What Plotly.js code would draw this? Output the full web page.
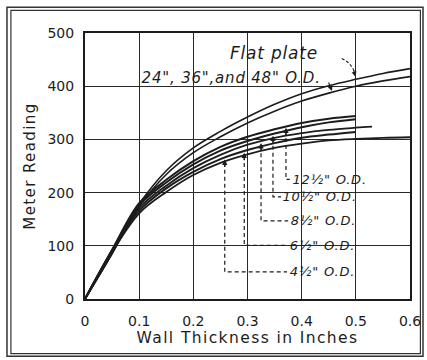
<!DOCTYPE html>
<html>
<head>
<meta charset="utf-8">
<script src="https://cdn.plot.ly/plotly-3.0.1.min.js"></script>
<style>
html,body{margin:0;padding:0;background:#fff;}
#chart{width:427px;height:360px;}
#chart .xtitle, #chart .ytitle{letter-spacing:1.4px;}
#chart .annotation-text{letter-spacing:0.8px;}
</style>
</head>
<body>
<div id="chart"></div>
<script>
// ---- data ----
const xFull = [0, 0.05, 0.1, 0.15, 0.2, 0.25, 0.3, 0.35, 0.4, 0.45, 0.5, 0.55, 0.6];
const flatPlate = [0, 86, 178, 241, 284, 315, 342, 366, 386, 401, 413, 424, 433];
const od24to48 = [0, 85, 174, 234, 275, 305, 331, 353, 372, 387, 400, 410, 418];

const xTo05 = [0, 0.05, 0.1, 0.15, 0.2, 0.25, 0.3, 0.35, 0.4, 0.45, 0.5];
const od12half = [0, 92, 180, 224, 259, 286, 305, 319, 331, 339, 344];
const od10half = [0, 92, 176, 219, 253, 279, 297, 311, 323, 332, 338];
const xTo053 = [0, 0.05, 0.1, 0.15, 0.2, 0.25, 0.3, 0.35, 0.4, 0.45, 0.5, 0.53];
const od8half = [0, 91, 171, 213, 246, 271, 290, 303, 312, 318, 322, 324];
const od6half = [0, 90, 166, 208, 239, 263, 280, 293, 303, 309, 314];
const od4half = [0, 88, 161, 201, 233, 256, 272, 284, 292, 298, 301, 303, 304];

const xTickVals = [0, 0.1, 0.2, 0.3, 0.4, 0.5, 0.6];
const xTickText = ['0', '0.1', '0.2', '0.3', '0.4', '0.5', '0.6'];
const yTickVals = [0, 100, 200, 300, 400, 500];

// labels for the pipe curves
const pipeLabels = ['12½" O.D.', '10½" O.D.', '8½" O.D.', '6½" O.D.', '4½" O.D.'];
const pipeArrowX = [0.371, 0.347, 0.325, 0.294, 0.258];
const pipeArrowY = [322, 307, 293, 275, 262];
const pipeLabelY = [225, 192, 147, 101, 51];
const pipeLabelX = [0.385, 0.368, 0.383, 0.381, 0.381];
const pipeLineEndX = [0.378, 0.362, 0.375, 0.373, 0.373];

const ink = '#1c1c1c';
const fontFam = '"DejaVu Sans", "Liberation Sans", sans-serif';

function curve(x, y, w) {
  return {x: x, y: y, type: 'scatter', mode: 'lines',
          line: {color: ink, width: w, shape: 'spline', smoothing: 1.0},
          hoverinfo: 'skip', showlegend: false};
}

const traces = [
  curve(xFull, flatPlate, 1.6),
  curve(xFull, od24to48, 1.6),
  curve(xTo05, od12half, 2.0),
  curve(xTo05, od10half, 2.0),
  curve(xTo053, od8half, 1.8),
  curve(xTo05, od6half, 2.0),
  curve(xFull, od4half, 1.8)
];

const shapes = [];
const annotations = [];

// outer double frame of the figure
shapes.push({type: 'rect', xref: 'paper', yref: 'paper', x0: -0.24, x1: 1.04, y0: -0.215, y1: 1.097,
             line: {color: '#333', width: 1.5}});
shapes.push({type: 'rect', xref: 'paper', yref: 'paper', x0: -0.228, x1: 1.032, y0: -0.205, y1: 1.085,
             line: {color: '#333', width: 1.2}});

for (let i = 0; i < pipeLabels.length; i++) {
  shapes.push({type: 'path', xref: 'x', yref: 'y',
    path: 'M ' + pipeArrowX[i] + ',' + (pipeArrowY[i] - 6) + ' L ' + pipeArrowX[i] + ',' + pipeLabelY[i] +
          ' L ' + pipeLineEndX[i] + ',' + pipeLabelY[i],
    line: {color: ink, width: 1.2, dash: '4px,3px'}});
  annotations.push({x: pipeArrowX[i], y: pipeArrowY[i], xref: 'x', yref: 'y', text: '',
    showarrow: true, arrowhead: 2, arrowsize: 0.9, arrowwidth: 1.2, arrowcolor: ink,
    ax: 0, ay: 9, axref: 'pixel', ayref: 'pixel'});
  annotations.push({x: pipeLabelX[i], y: pipeLabelY[i], xref: 'x', yref: 'y', text: '<i>' + pipeLabels[i] + '</i>',
    showarrow: false, xanchor: 'left', yanchor: 'middle',
    font: {family: fontFam, size: 13, color: ink}});
}

// flat plate label and dashed leader
annotations.push({x: 0.272, y: 462, xref: 'x', yref: 'y', text: '<i>Flat plate</i>', showarrow: false,
  xanchor: 'left', yanchor: 'middle', font: {family: fontFam, size: 17, color: ink}});
shapes.push({type: 'path', xref: 'x', yref: 'y', path: 'M 0.474,452 Q 0.49,445 0.497,428',
  line: {color: ink, width: 1.1, dash: '3px,2px'}});
annotations.push({x: 0.499, y: 418, xref: 'x', yref: 'y', text: '', showarrow: true, arrowhead: 2,
  arrowsize: 0.9, arrowwidth: 1.1, arrowcolor: ink, ax: -2, ay: -8, axref: 'pixel', ayref: 'pixel'});

annotations.push({x: 0.116, y: 416, xref: 'x', yref: 'y', text: '<i>24", 36",and 48" O.D.</i>', showarrow: false,
  xanchor: 'left', yanchor: 'middle', font: {family: fontFam, size: 15, color: ink}});
annotations.push({x: 0.456, y: 391, xref: 'x', yref: 'y', text: '', showarrow: true, arrowhead: 2,
  arrowsize: 0.9, arrowwidth: 1.1, arrowcolor: ink, ax: -4, ay: -10, axref: 'pixel', ayref: 'pixel'});

const layout = {
  width: 427, height: 360,
  margin: {l: 85, r: 17, t: 33, b: 61},
  paper_bgcolor: '#ffffff', plot_bgcolor: '#ffffff',
  font: {family: fontFam, color: ink},
  showlegend: false,
  xaxis: {
    range: [0, 0.6], tickvals: xTickVals, ticktext: xTickText,
    showgrid: true, gridcolor: '#2a2a2a', gridwidth: 1.2,
    showline: true, linecolor: ink, linewidth: 2, mirror: true,
    zeroline: false, ticks: '', ticklabelstandoff: 8,
    tickfont: {family: fontFam, size: 14, color: ink},
    title: {text: 'Wall Thickness in Inches', font: {family: fontFam, size: 15.5, color: ink}, standoff: 3},
    fixedrange: true
  },
  yaxis: {
    range: [0, 500], tickvals: yTickVals,
    showgrid: true, gridcolor: '#2a2a2a', gridwidth: 1.2,
    showline: true, linecolor: ink, linewidth: 2, mirror: true,
    zeroline: false, ticks: '', ticklabelstandoff: 6,
    tickfont: {family: fontFam, size: 14, color: ink},
    title: {text: 'Meter Reading', font: {family: fontFam, size: 15, color: ink}, standoff: 8},
    fixedrange: true
  },
  shapes: shapes,
  annotations: annotations
};

Plotly.newPlot('chart', traces, layout, {staticPlot: true, displayModeBar: false});
</script>
</body>
</html>
